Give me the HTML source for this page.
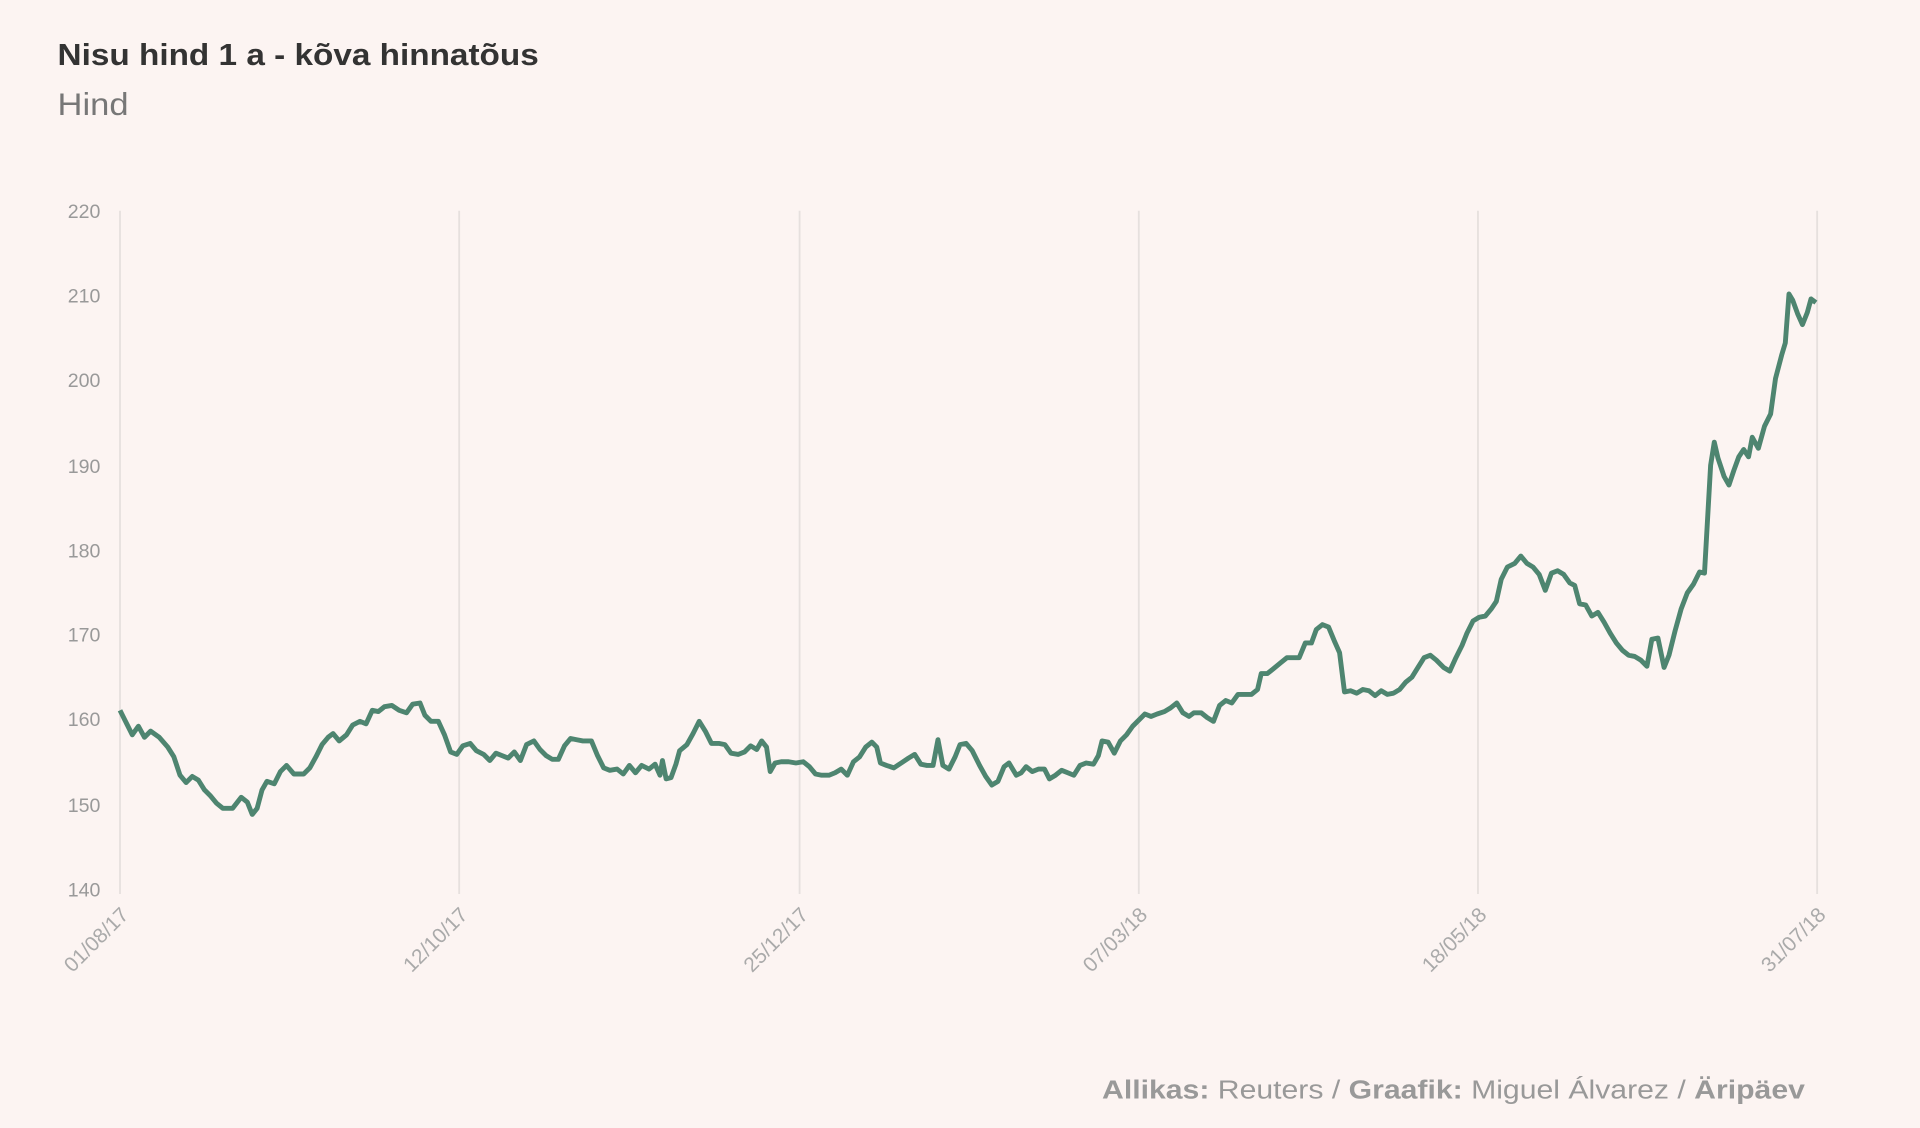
<!DOCTYPE html>
<html><head><meta charset="utf-8"><style>
html,body{margin:0;padding:0;background:#fcf4f2;}
svg{display:block;}
</style></head><body>
<svg width="1920" height="1128" viewBox="0 0 1568 921" xmlns="http://www.w3.org/2000/svg" font-family="Liberation Sans, sans-serif">
<rect width="1568" height="921" fill="#fcf4f2"/>
<text x="47" y="53" font-size="25" font-weight="bold" fill="#333" textLength="393" lengthAdjust="spacingAndGlyphs">Nisu hind 1 a - kõva hinnatõus</text>
<text x="47" y="94" font-size="26" fill="#777" textLength="58" lengthAdjust="spacingAndGlyphs">Hind</text>
<g stroke="#e6e0de" stroke-width="1.5">
<line x1="98" y1="172" x2="98" y2="730"/><line x1="375" y1="172" x2="375" y2="730"/>
<line x1="653" y1="172" x2="653" y2="730"/><line x1="930" y1="172" x2="930" y2="730"/>
<line x1="1207" y1="172" x2="1207" y2="730"/><line x1="1484" y1="172" x2="1484" y2="730"/>
</g>
<g font-size="16" fill="#999" text-anchor="end">
<text x="82" y="178">220</text><text x="82" y="247">210</text><text x="82" y="316">200</text>
<text x="82" y="386">190</text><text x="82" y="455">180</text><text x="82" y="524">170</text>
<text x="82" y="593">160</text><text x="82" y="663">150</text><text x="82" y="732">140</text>
</g>
<g font-size="17" fill="#aaa" text-anchor="end">
<text transform="translate(106,748) rotate(-45)">01/08/17</text>
<text transform="translate(383,748) rotate(-45)">12/10/17</text>
<text transform="translate(661,748) rotate(-45)">25/12/17</text>
<text transform="translate(938,748) rotate(-45)">07/03/18</text>
<text transform="translate(1215,748) rotate(-45)">18/05/18</text>
<text transform="translate(1492,748) rotate(-45)">31/07/18</text>
</g>
<polyline fill="none" stroke="#4e8570" stroke-width="4" stroke-linejoin="round" points="98,580 104,592 108,600 113,593 118,602 123,597 130,602 137,610 142,618 147,633 152,639 157,634 162,637 167,645 172,650 177,656 182,660 190,660 197,651 202,655 206,665 210,660 214,645 218,638 224,640 229,630 234,625 240,632 248,632 253,627 258,618 263,608 268,602 272,599 277,605 283,600 288,592 294,589 299,591 304,580 309,581 314,577 320,576 326,580 332,582 337,575 343,574 347,584 352,589 358,589 363,600 368,614 373,616 378,609 384,607 389,613 395,616 400,621 405,615 410,617 415,619 420,614 425,621 430,608 436,605 441,612 446,617 451,620 456,620 461,609 466,603 471,604 476,605 483,605 488,617 493,627 498,629 504,628 509,632 514,625 519,631 524,625 530,628 535,624 539,633 541,621 544,636 548,635 552,624 555,613 561,608 566,599 571,589 576,597 581,607 587,607 592,608 597,615 603,616 608,614 613,609 618,612 622,605 626,610 629,630 633,623 638,622 644,622 650,623 656,622 661,626 666,632 671,633 677,633 682,631 687,628 692,633 697,622 702,618 707,610 712,606 716,610 719,623 724,625 730,627 736,623 742,619 747,616 752,624 757,625 762,625 766,604 770,625 775,628 780,618 784,608 789,607 794,613 800,625 805,634 810,641 815,638 820,626 824,623 830,633 834,631 838,626 843,630 848,628 853,628 857,636 862,633 867,629 872,631 877,633 882,625 887,623 893,624 897,617 900,605 905,606 910,615 915,605 920,600 925,593 930,588 935,583 940,585 945,583 951,581 956,578 961,574 966,582 971,585 975,582 981,582 986,586 991,589 996,576 1001,572 1006,574 1011,567 1017,567 1022,567 1027,563 1030,550 1035,550 1040,546 1046,541 1051,537 1056,537 1061,537 1066,525 1071,525 1075,514 1080,510 1085,512 1090,524 1094,533 1098,565 1103,564 1108,566 1113,563 1118,564 1123,568 1128,564 1133,567 1138,566 1143,563 1148,557 1153,553 1158,545 1163,537 1168,535 1173,539 1179,545 1184,548 1189,537 1194,527 1198,517 1203,507 1208,504 1213,503 1218,497 1222,491 1226,473 1231,463 1237,460 1242,454 1247,460 1252,463 1257,469 1262,482 1267,468 1272,466 1277,469 1282,476 1286,478 1290,493 1295,494 1300,503 1305,500 1310,508 1315,517 1320,525 1325,531 1330,535 1335,536 1340,539 1345,544 1349,522 1354,521 1359,545 1363,535 1368,515 1373,497 1378,484 1383,477 1388,467 1392,468 1397,380 1400,361 1403,374 1408,389 1412,396 1416,384 1420,373 1424,367 1428,373 1431,357 1436,366 1441,348 1446,338 1450,309 1455,290 1458,280 1461,240 1464,245 1468,256 1472,265 1476,255 1479,244 1483,247"/>
<text x="900" y="897" font-size="21" fill="#999" textLength="574" lengthAdjust="spacingAndGlyphs"><tspan font-weight="bold">Allikas:</tspan> Reuters / <tspan font-weight="bold">Graafik:</tspan> Miguel Álvarez / <tspan font-weight="bold">Äripäev</tspan></text>
</svg>
</body></html>
